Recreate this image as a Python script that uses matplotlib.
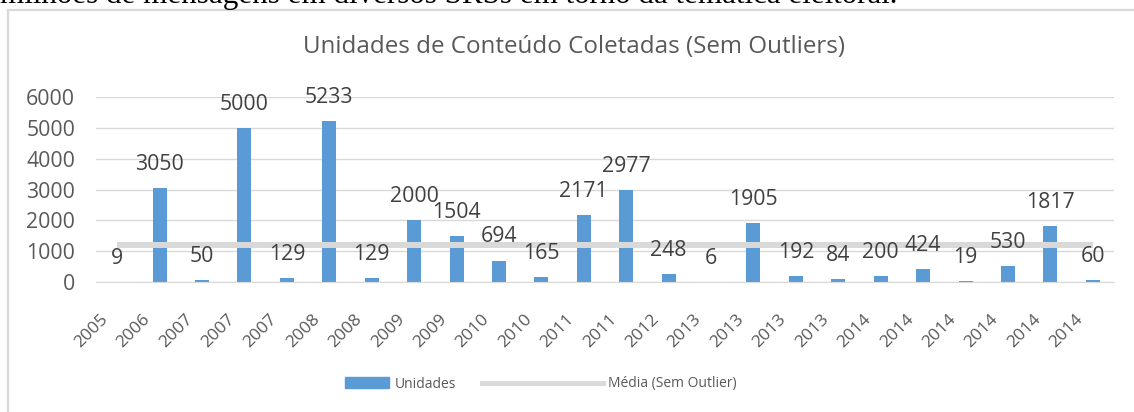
import matplotlib
matplotlib.use("Agg")
import matplotlib.pyplot as plt
from matplotlib.lines import Line2D
from matplotlib.patches import Patch
from matplotlib.transforms import ScaledTranslation

# data
ANOS = ["2005", "2006", "2007", "2007", "2007", "2008", "2008", "2009", "2009",
        "2010", "2010", "2011", "2011", "2012", "2013", "2013", "2013", "2013",
        "2014", "2014", "2014", "2014", "2014", "2014"]
UNIDADES = [9, 3050, 50, 5000, 129, 5233, 129, 2000, 1504, 694, 165, 2171,
            2977, 248, 6, 1905, 192, 84, 200, 424, 19, 530, 1817, 60]
MEDIA = 1191.5  # "Média (Sem Outlier)"

TITULO = "Unidades de Conteúdo Coletadas (Sem Outliers)"
TEXTO_TOPO = "milhões de mensagens em diversos SRSs em torno da temática eleitoral."

AZUL = "#5b9bd5"
CINZA = "#d9d9d9"
TXT = "#595959"
W, H, DPI = 1134, 412, 100

plt.rcParams["font.family"] = ["Open Sans", "DejaVu Sans"]

fig = plt.figure(figsize=(W / DPI, H / DPI), dpi=DPI)


def px(x, y):
    # pixel (from top-left) -> figure fraction
    return x / W, 1 - y / H


# chart frame (Excel chart area border)
fig.add_artist(Line2D([7.5 / W, 7.5 / W], [1 - 9.5 / H, 0], color=CINZA, lw=1.6,
                      transform=fig.transFigure))
fig.add_artist(Line2D([7.5 / W, 1], [1 - 9.5 / H, 1 - 9.5 / H], color=CINZA, lw=1.6,
                      transform=fig.transFigure))

# line of body text above the chart, cut by the crop as in the reference
t = fig.text(0, 1 - 3.5 / H, TEXTO_TOPO, family="Liberation Serif", fontsize=20,
             color="black", va="baseline", ha="left")
r = fig.canvas.get_renderer()
w = t.get_window_extent(r).width
t.set_fontsize(20 * 897 / w)

left, right = 96, 1114
top0, base = 97, 282
ax = fig.add_axes([left / W, 1 - base / H, (right - left) / W, (base - top0) / H])

x = list(range(len(UNIDADES)))
ax.bar(x, UNIDADES, width=0.33, color=AZUL, zorder=2)
ax.plot(x, [MEDIA] * len(x), color=CINZA, lw=4.3, solid_capstyle="butt", zorder=3)

for xi, v in zip(x, UNIDADES):
    ax.annotate(str(v), (xi, v), xytext=(0, 17), textcoords="offset points",
                ha="center", va="center", fontsize=15.3, color="#404040", zorder=4)

ax.set_xlim(-0.5, len(x) - 0.5)
ax.set_ylim(0, 6000)
ax.set_yticks(range(0, 6001, 1000))
ax.yaxis.grid(True, color=CINZA, lw=1)
ax.set_axisbelow(True)
for s in ("top", "right", "left"):
    ax.spines[s].set_visible(False)
ax.spines["bottom"].set_color(CINZA)
ax.tick_params(axis="both", length=0)
ax.tick_params(axis="y", labelsize=15.3, labelcolor=TXT, pad=15)
ax.set_xticks(x)
ax.set_xticklabels(ANOS, rotation=45, ha="right", va="center",
                   rotation_mode="anchor", fontsize=12.5, color=TXT)
ax.tick_params(axis="x", pad=25)
shift = ScaledTranslation(-12 / DPI, 0, fig.dpi_scale_trans)
for lab in ax.get_xticklabels():
    lab.set_transform(lab.get_transform() + shift)

fig.text(*px(574, 47), TITULO, ha="center", va="center", fontsize=17.4, color=TXT)

# legend (two pieces: Excel uses different key sizes)
fig.legend([Patch(color=AZUL)], ["Unidades"], loc="center left",
           bbox_to_anchor=px(345, 384), frameon=False, fontsize=10,
           handlelength=3.2, handleheight=0.8, handletextpad=0.35,
           borderpad=0, borderaxespad=0, labelcolor=TXT)
fig.legend([Line2D([], [], color=CINZA, lw=3.5)], ["Média (Sem Outlier)"],
           loc="center left", bbox_to_anchor=px(482, 384), frameon=False,
           fontsize=10, handlelength=8.7, handletextpad=0.35, borderpad=0,
           borderaxespad=0, labelcolor=TXT)

fig.savefig("out.png", dpi=DPI)
